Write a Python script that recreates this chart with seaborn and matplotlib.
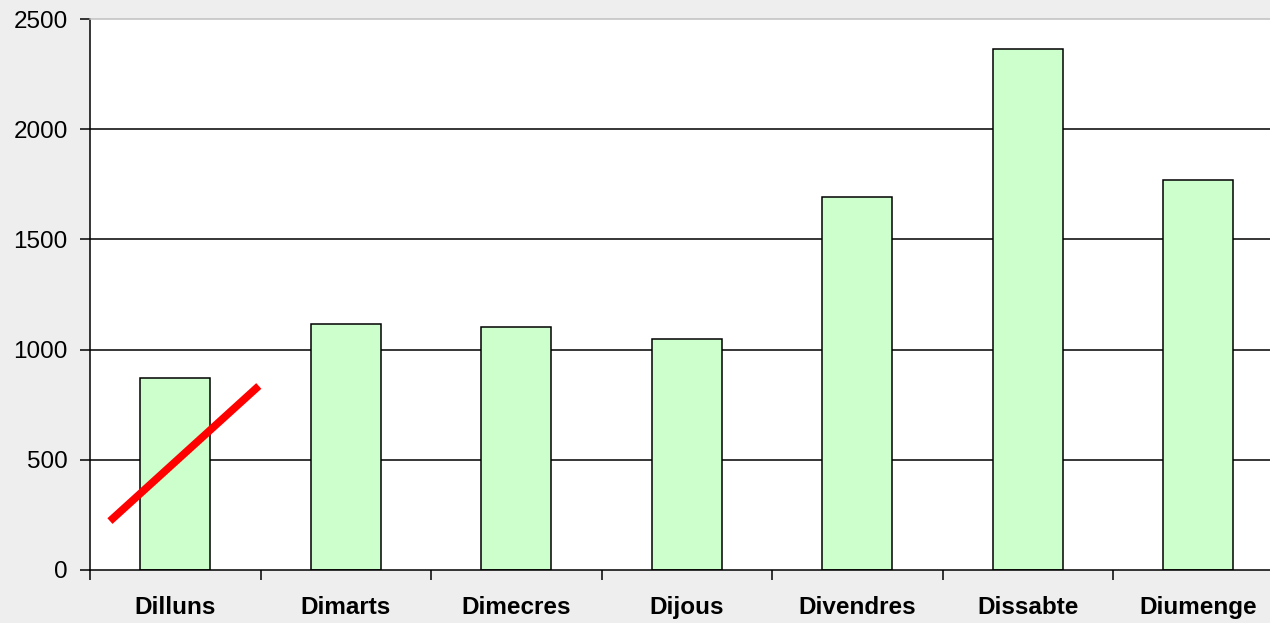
import matplotlib
matplotlib.use("Agg")
import matplotlib.pyplot as plt
import seaborn as sns

# data
days = ["Dilluns", "Dimarts", "Dimecres", "Dijous", "Divendres", "Dissabte", "Diumenge"]
values = [871, 1116, 1103, 1048, 1692, 2364, 1770]
y_ticks = [0, 500, 1000, 1500, 2000, 2500]

# red trend stroke over the first bar (category units, value units)
trend_x = [-0.383, 0.49]
trend_y = [222, 835]

sns.set_style("white")
plt.rcParams["font.family"] = ["Liberation Sans", "DejaVu Sans"]
plt.rcParams["text.color"] = "black"
plt.rcParams["xtick.color"] = "black"
plt.rcParams["ytick.color"] = "black"

fig = plt.figure(figsize=(12.7, 6.23), dpi=100, facecolor="#eeeeee")
# plot area runs a little past the right edge of the picture
ax = fig.add_axes([90 / 1270, 1 - 570 / 623, 1193.5 / 1270, (570 - 19) / 623])
ax.set_facecolor("white")

for v in y_ticks[1:-1]:
    ax.axhline(v, color="black", lw=1.1, zorder=0)

sns.barplot(x=days, y=values, color="#ccffcc", edgecolor="black", linewidth=1.1,
            width=0.41, saturation=1, ax=ax, zorder=2)

ax.plot(trend_x, trend_y, color="#ff0000", lw=5.5, solid_capstyle="butt", zorder=3)

ax.set_xlim(-0.5, len(days) - 0.5)
ax.set_ylim(0, 2500)
ax.set_yticks(y_ticks)
ax.set_yticklabels([str(t) for t in y_ticks], fontsize=17.5)
ax.tick_params(axis="y", direction="out", length=7, width=1.1, pad=9, left=True, labelcolor="black")

ax.set_xticks(range(len(days)))
ax.set_xticklabels(days, fontsize=17.5, fontweight="bold")
ax.tick_params(axis="x", length=0, pad=19, labelcolor="black")
ax.set_xticks([i - 0.5 for i in range(len(days))], minor=True)
ax.tick_params(axis="x", which="minor", direction="out", length=7, width=1.1, bottom=True)

ax.set_xlabel("")
ax.set_ylabel("")
for side in ["left", "bottom"]:
    ax.spines[side].set_color("black")
    ax.spines[side].set_linewidth(1.1)
ax.spines["top"].set_color("#c0c0c0")
ax.spines["top"].set_linewidth(1.1)
ax.spines["right"].set_visible(False)

fig.savefig("out.png", dpi=100, facecolor=fig.get_facecolor())
